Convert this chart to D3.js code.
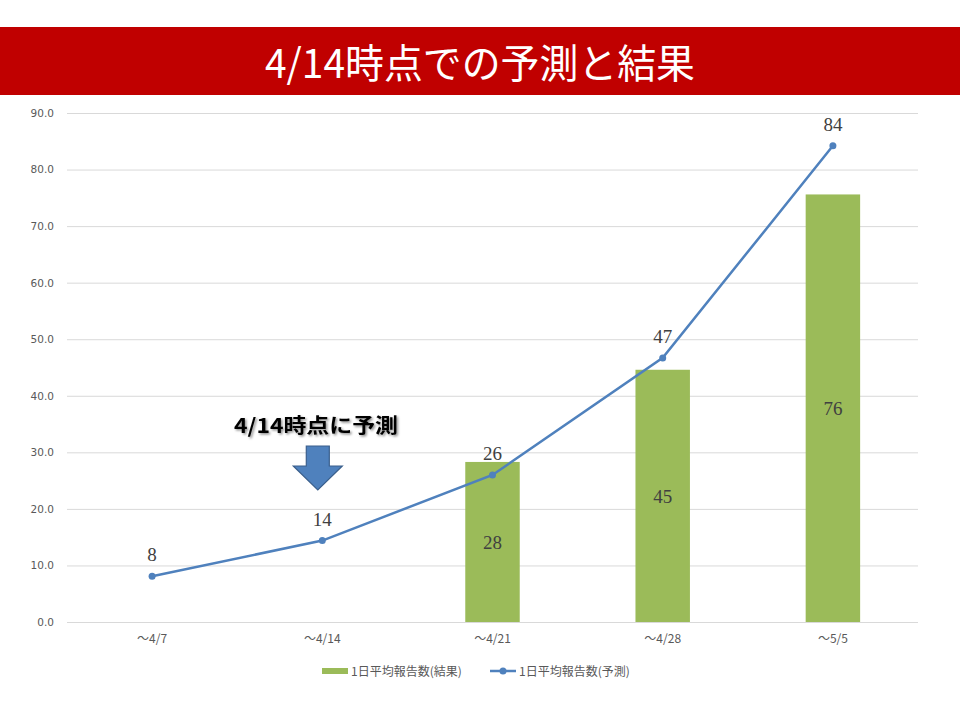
<!DOCTYPE html>
<html><head><meta charset="utf-8">
<script src="https://cdn.jsdelivr.net/npm/d3@7/dist/d3.min.js"></script>
<style>body{margin:0;background:#fff}svg{display:block}</style>
</head><body>
<svg id="c" width="960" height="720"></svg>
<script>
const title = "4/14時点での予測と結果";
const categories = ["～4/7","～4/14","～4/21","～4/28","～5/5"];
const resultValues = [null, null, 28.3, 44.6, 75.6];
const forecastValues = [8.1, 14.4, 26.0, 46.7, 84.2];
const yTicks = [0,10,20,30,40,50,60,70,80,90];
const seriesNames = ["1日平均報告数(結果)","1日平均報告数(予測)"];
const annotation = {text:"4/14時点に予測", category:"～4/14"};

const svg = d3.select("#c");
const font = "'Noto Sans CJK JP','Noto Sans',sans-serif";

// title bar
svg.append("rect").attr("x",0).attr("y",27).attr("width",960).attr("height",68).attr("fill","#C00000");
svg.append("text").attr("x",265).attr("y",78)
  .attr("textLength",430).attr("lengthAdjust","spacingAndGlyphs")
  .attr("font-family",font).attr("font-size",40).attr("font-weight",400).attr("fill","#fff").text(title);

const x = d3.scaleBand().domain(categories).range([67,918]).paddingInner(0.68).paddingOuter(0.34);
const xc = d => x(d) + x.bandwidth()/2;
const y = d3.scaleLinear().domain([0,90]).range([622,113]);

// grid
svg.append("g").selectAll("line").data(yTicks).join("line")
  .attr("x1",67).attr("x2",918).attr("y1",d=>y(d)+0.5).attr("y2",d=>y(d)+0.5)
  .attr("stroke","#d9d9d9").attr("stroke-width",1);

// y axis labels
const yAxis = d3.axisLeft(y).tickValues(yTicks).tickFormat(d3.format(".1f")).tickSize(0).tickPadding(0);
const gy = svg.append("g").attr("transform","translate(54,0)").call(yAxis);
gy.select(".domain").remove();
gy.selectAll("text").attr("font-family","'DejaVu Sans',sans-serif").attr("font-size",10.5).attr("fill","#595959");

// x axis labels
const xAxis = d3.axisBottom(x).tickSize(0).tickPadding(0);
const gx = svg.append("g").attr("transform","translate(0,635)").call(xAxis);
gx.select(".domain").remove();
gx.selectAll("text").attr("font-family",font).attr("font-size",12).attr("fill","#595959").attr("dy","0.7em");

// bars
const barData = categories.map((c,i)=>({c,v:resultValues[i]})).filter(d=>d.v!=null);
svg.append("g").selectAll("rect").data(barData).join("rect")
  .attr("x",d=>x(d.c)).attr("width",x.bandwidth())
  .attr("y",d=>y(d.v)).attr("height",d=>y(0)-y(d.v)).attr("fill","#9BBB59");
svg.append("g").selectAll("text").data(barData).join("text")
  .attr("x",d=>xc(d.c)).attr("y",d=>(y(d.v)+y(0))/2+7).attr("text-anchor","middle")
  .attr("font-family","'Liberation Serif','DejaVu Serif',serif").attr("font-size",19).attr("fill","#404040")
  .text(d=>Math.round(d.v));

// line
const lineData = categories.map((c,i)=>({c,v:forecastValues[i]}));
svg.append("path").datum(lineData).attr("fill","none").attr("stroke","#4F81BD").attr("stroke-width",2.5)
  .attr("d",d3.line().x(d=>xc(d.c)).y(d=>y(d.v)));
svg.append("g").selectAll("circle").data(lineData).join("circle")
  .attr("cx",d=>xc(d.c)).attr("cy",d=>y(d.v)).attr("r",3.5).attr("fill","#4F81BD");
svg.append("g").selectAll("text").data(lineData).join("text")
  .attr("x",d=>xc(d.c)).attr("y",d=>y(d.v)-15).attr("text-anchor","middle")
  .attr("font-family","'Liberation Serif','DejaVu Serif',serif").attr("font-size",19).attr("fill","#404040")
  .text(d=>Math.round(d.v));

// annotation
const ax = xc(annotation.category) - 5;
const defs = svg.append("defs");
const f = defs.append("filter").attr("id","sh").attr("x","-10%").attr("y","-20%").attr("width","130%").attr("height","160%");
f.append("feDropShadow").attr("dx",1.5).attr("dy",1.5).attr("stdDeviation",1).attr("flood-color","#000").attr("flood-opacity",0.45);
svg.append("text").attr("x",234).attr("y",433)
  .attr("textLength",164).attr("lengthAdjust","spacingAndGlyphs")
  .attr("font-family",font).attr("font-size",20).attr("font-weight",700).attr("fill","#000")
  .attr("filter","url(#sh)").text(annotation.text);
const arrow = d3.path();
arrow.moveTo(ax-11,446); arrow.lineTo(ax+12,446); arrow.lineTo(ax+12,466); arrow.lineTo(ax+25,466);
arrow.lineTo(ax+0.5,490); arrow.lineTo(ax-24,466); arrow.lineTo(ax-11,466); arrow.closePath();
svg.append("path").attr("d",arrow.toString()).attr("fill","#4F81BD").attr("stroke","#3A5F8C").attr("stroke-width",1.2);

// legend
const lg = svg.append("g").attr("font-family",font).attr("font-size",12).attr("fill","#595959");
lg.append("rect").attr("x",322).attr("y",668).attr("width",26).attr("height",6).attr("fill","#9BBB59");
lg.append("text").attr("x",351).attr("y",676).text(seriesNames[0]);
lg.append("line").attr("x1",490).attr("x2",516).attr("y1",671).attr("y2",671).attr("stroke","#4F81BD").attr("stroke-width",2.5);
lg.append("circle").attr("cx",503).attr("cy",671).attr("r",3.5).attr("fill","#4F81BD");
lg.append("text").attr("x",519).attr("y",676).text(seriesNames[1]);
</script>
</body></html>
